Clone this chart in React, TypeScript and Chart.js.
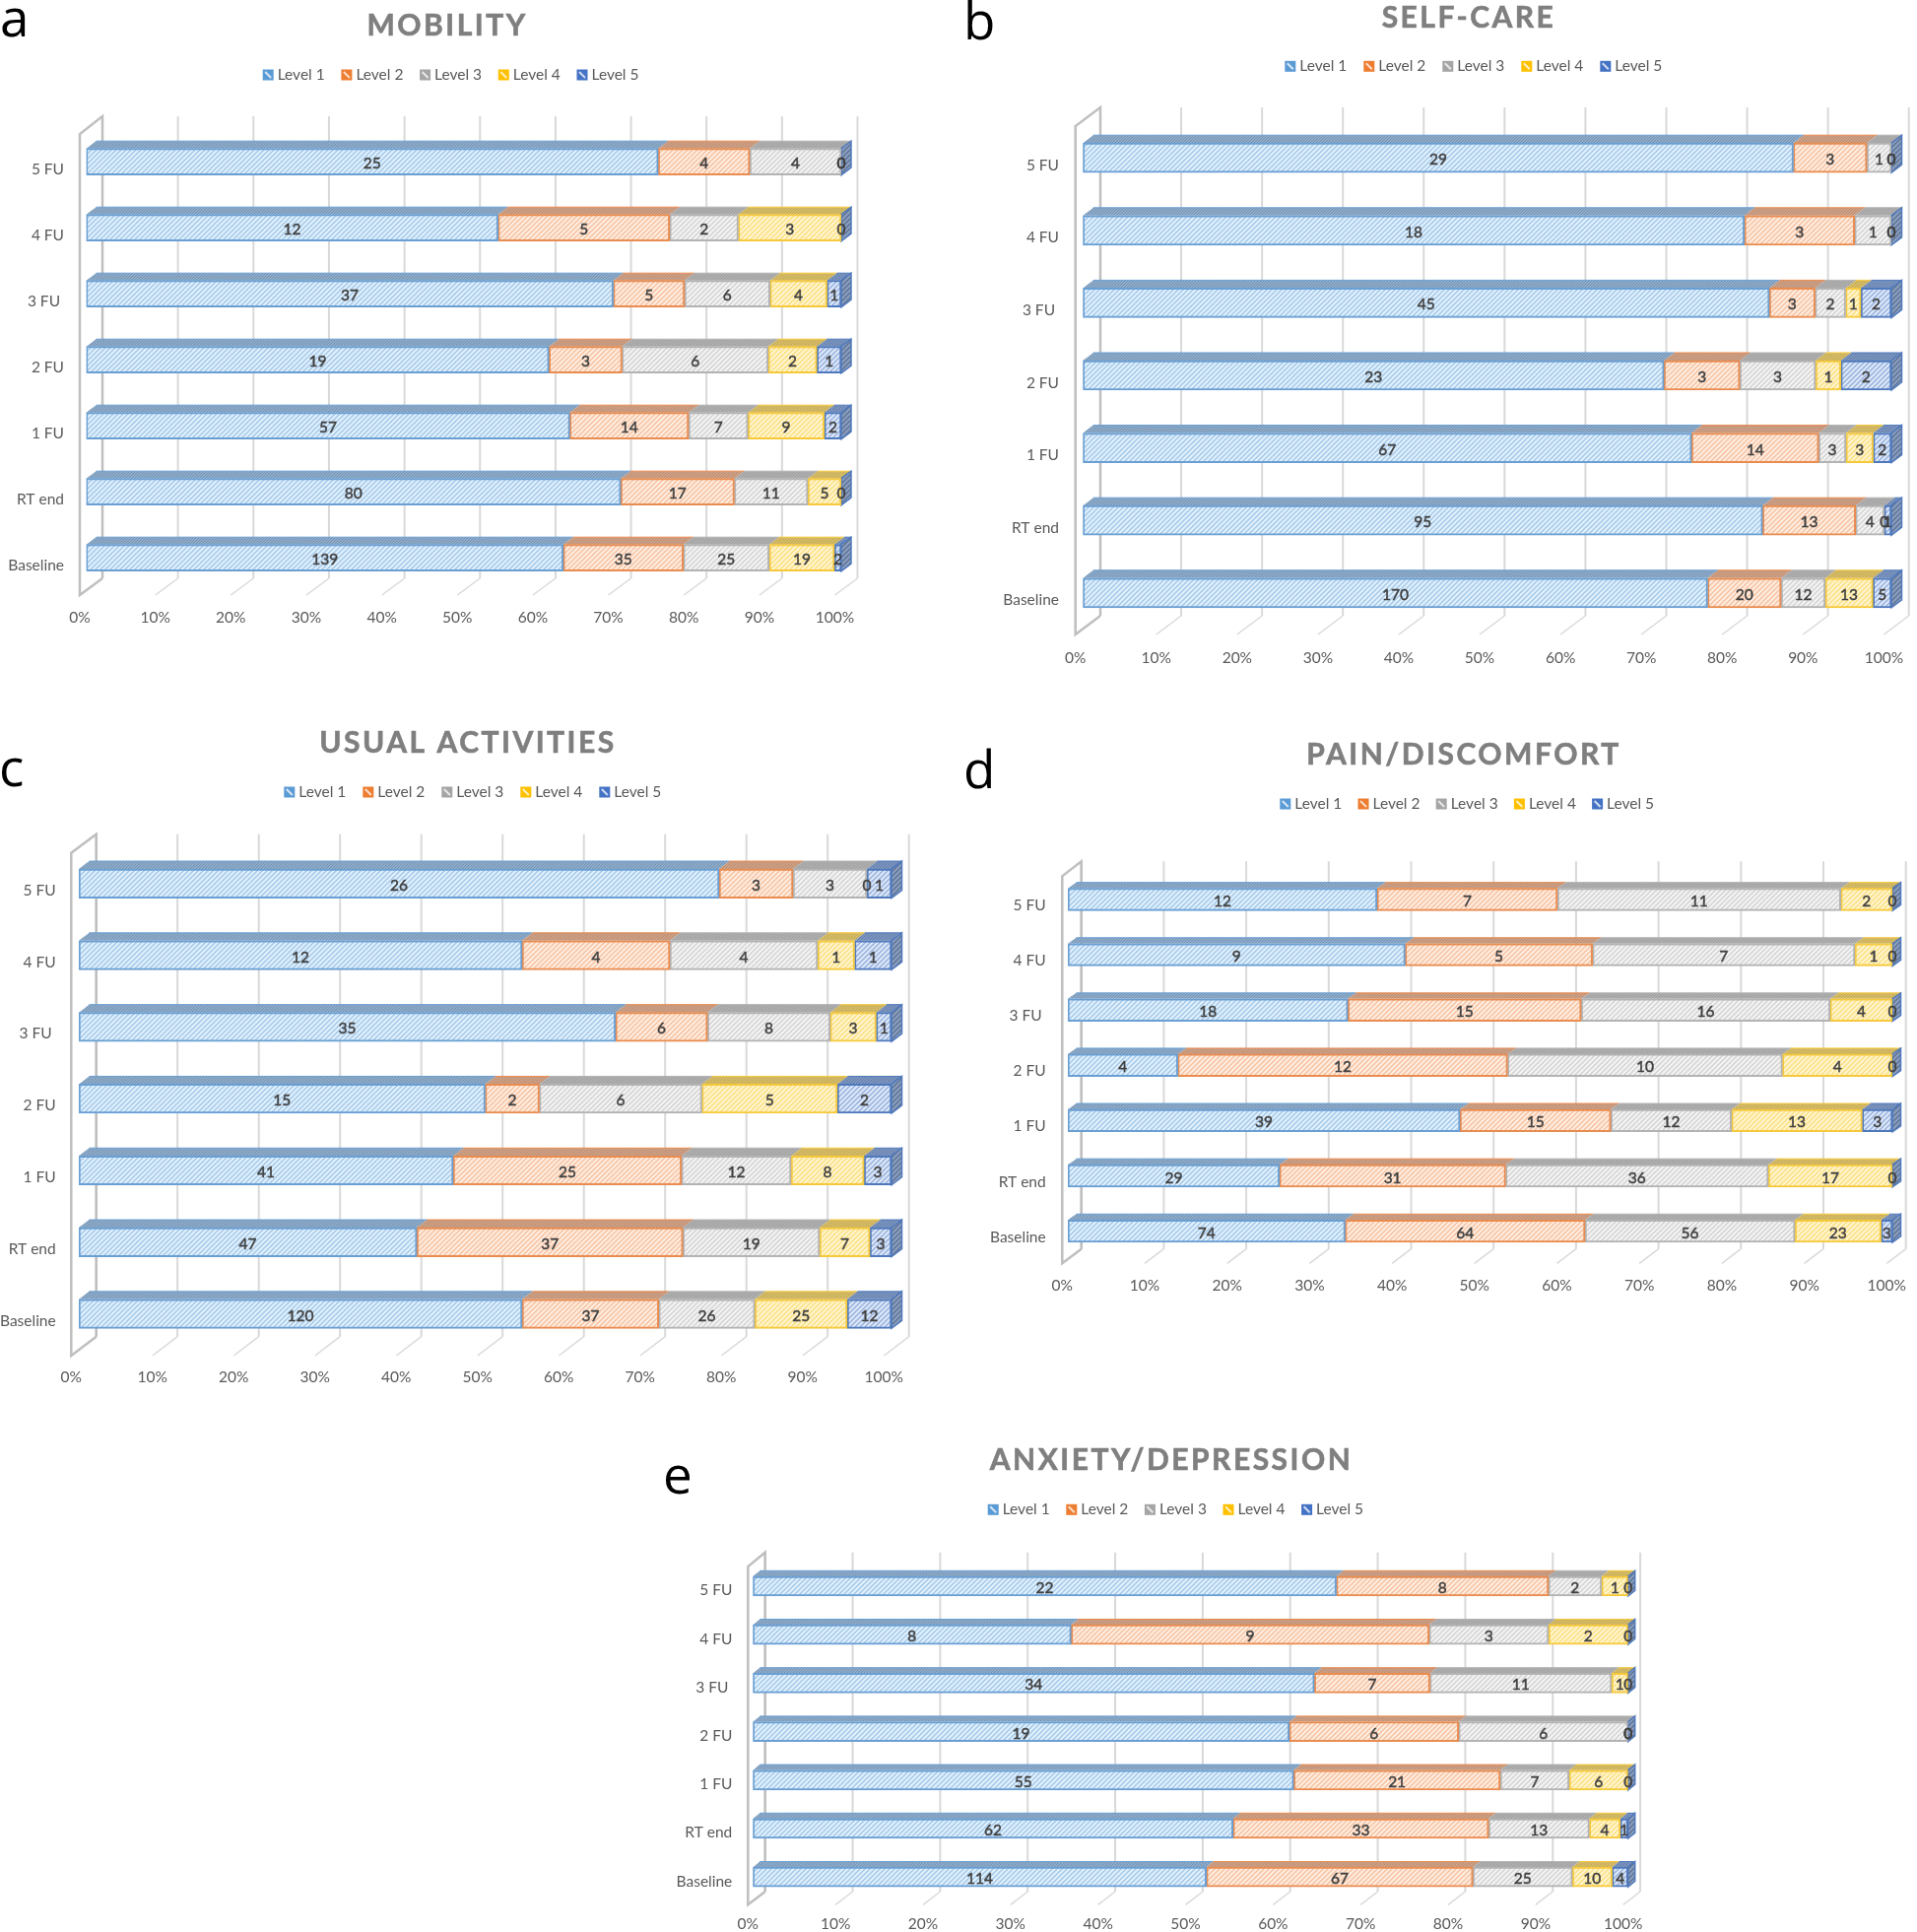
import React, { useEffect, useRef } from "react";
import { Chart, registerables } from "chart.js";

Chart.register(...registerables);

const categories = ["5 FU", "4 FU", "3 FU ", "2 FU", "1 FU", "RT end", "Baseline"];
const levels = ["Level 1", "Level 2", "Level 3", "Level 4", "Level 5"];
const percentTicks = [0, 10, 20, 30, 40, 50, 60, 70, 80, 90, 100];

const mobilityCounts = [
  [25, 12, 37, 19, 57, 80, 139],
  [4, 5, 5, 3, 14, 17, 35],
  [4, 2, 6, 6, 7, 11, 25],
  [0, 3, 4, 2, 9, 5, 19],
  [0, 0, 1, 1, 2, 0, 2],
];
const selfCareCounts = [
  [29, 18, 45, 23, 67, 95, 170],
  [3, 3, 3, 3, 14, 13, 20],
  [1, 1, 2, 3, 3, 4, 12],
  [0, 0, 1, 1, 3, 0, 13],
  [0, 0, 2, 2, 2, 1, 5],
];
const usualCounts = [
  [26, 12, 35, 15, 41, 47, 120],
  [3, 4, 6, 2, 25, 37, 37],
  [3, 4, 8, 6, 12, 19, 26],
  [0, 1, 3, 5, 8, 7, 25],
  [1, 1, 1, 2, 3, 3, 12],
];
const painCounts = [
  [12, 9, 18, 4, 39, 29, 74],
  [7, 5, 15, 12, 15, 31, 64],
  [11, 7, 16, 10, 12, 36, 56],
  [2, 1, 4, 4, 13, 17, 23],
  [0, 0, 0, 0, 3, 0, 3],
];
const anxietyCounts = [
  [22, 8, 34, 19, 55, 62, 114],
  [8, 9, 7, 6, 21, 33, 67],
  [2, 3, 11, 6, 7, 13, 25],
  [1, 2, 1, 0, 6, 4, 10],
  [0, 0, 0, 0, 0, 1, 4],
];

const palette = [
  { line: "#6a9fd3", light: "#e2f1fd", stripe: "#a3c8e8", top: "#8fadcb", dot: "#7391b0", swatch: "#5b9bd5" },
  { line: "#e98c50", light: "#feeee3", stripe: "#f7c09d", top: "#cfa186", dot: "#b98b70", swatch: "#ed7d31" },
  { line: "#b3b3b3", light: "#f4f4f4", stripe: "#d2d2d2", top: "#b0b0b0", dot: "#9d9d9d", swatch: "#a5a5a5" },
  { line: "#f6c93c", light: "#fff5d0", stripe: "#fcdf80", top: "#d8bd68", dot: "#c0a854", swatch: "#ffc000" },
  { line: "#4f79bd", light: "#dfe9f8", stripe: "#95b0de", top: "#7e98c2", dot: "#5f7aa6", swatch: "#4472c4" },
];

const panels = [
  { letter: "a", lx: 0, ly: 37, title: "MOBILITY", tx: 454, ty: 25, counts: mobilityCounts, box: [0, 0, 970, 720],
    barL: 87.5, barR: 854, first: 164.2, step: 67, thick: 27, dx: 10, dy: 7.5,
    frontDx: -6.5, backDx: 16.5, frontTop: 136, frontBot: 604, backTop: 118, backBot: 587,
    legX: 266.7, legStep: 79.7, legY: 76, yRight: 65, yOff: 8, xLabelY: 627, stripe: 5 },
  { letter: "b", lx: 978, ly: 40, title: "SELF-CARE", tx: 1491, ty: 17, counts: selfCareCounts, box: [970, 0, 976, 720],
    barL: 1099.3, barR: 1920, first: 160.2, step: 73.6, thick: 30, dx: 10.5, dy: 8,
    frontDx: -7.6, backDx: 17.7, frontTop: 128, frontBot: 644, backTop: 109, backBot: 625,
    legX: 1304.3, legStep: 80, legY: 67.3, yRight: 1075, yOff: 7.5, xLabelY: 667.7, stripe: 5 },
  { letter: "c", lx: -1, ly: 798, title: "USUAL ACTIVITIES", tx: 475, ty: 753, counts: usualCounts, box: [0, 720, 970, 720],
    barL: 80, barR: 905, first: 896.8, step: 72.8, thick: 29.5, dx: 10.5, dy: 8,
    frontDx: -7.7, backDx: 17.7, frontTop: 865.7, frontBot: 1376, backTop: 846.7, backBot: 1356.7,
    legX: 288.3, legStep: 80, legY: 804, yRight: 56.7, yOff: 7, xLabelY: 1398, stripe: 5 },
  { letter: "d", lx: 978, ly: 800, title: "PAIN/DISCOMFORT", tx: 1486, ty: 765, counts: painCounts, box: [970, 720, 976, 720],
    barL: 1084, barR: 1921, first: 913, step: 56.1, thick: 22.7, dx: 8.5, dy: 6,
    frontDx: -5.7, backDx: 13.7, frontTop: 889.3, frontBot: 1282.3, backTop: 874.3, backBot: 1267.7,
    legX: 1299.3, legStep: 79.2, legY: 816, yRight: 1061.7, yOff: 6, xLabelY: 1305, stripe: 4.5 },
  { letter: "e", lx: 673, ly: 1516, title: "ANXIETY/DEPRESSION", tx: 1189, ty: 1481, counts: anxietyCounts, box: [600, 1440, 1346, 521],
    barL: 764.3, barR: 1652.7, first: 1610, step: 49.2, thick: 20, dx: 7, dy: 5.7,
    frontDx: -5, backDx: 12.4, frontTop: 1590, frontBot: 1933.3, backTop: 1575.7, backBot: 1920,
    legX: 1002.7, legStep: 79.6, legY: 1532.3, yRight: 743.3, yOff: 4.3, xLabelY: 1953, stripe: 4.5 },
];

const FONT = "Lato";

function stripePattern(ctx: CanvasRenderingContext2D, base: string, stripe: string, s: number) {
  const size = Math.round(s);
  const t = document.createElement("canvas");
  t.width = size;
  t.height = size;
  const c = t.getContext("2d")!;
  c.fillStyle = base;
  c.fillRect(0, 0, size, size);
  c.strokeStyle = stripe;
  c.lineWidth = 1.5;
  [[-1, size + 1, size + 1, -1], [-1, 1, 1, -1], [size - 1, size + 1, size + 1, size - 1]].forEach(([a, b, d, e]) => {
    c.beginPath();
    c.moveTo(a, b);
    c.lineTo(d, e);
    c.stroke();
  });
  return ctx.createPattern(t, "repeat")!;
}

function meshPattern(ctx: CanvasRenderingContext2D, base: string, dot: string) {
  const t = document.createElement("canvas");
  t.width = 3;
  t.height = 3;
  const c = t.getContext("2d")!;
  c.fillStyle = base;
  c.fillRect(0, 0, 3, 3);
  c.fillStyle = dot;
  c.fillRect(0, 0, 1, 1);
  c.fillRect(2, 1, 1, 1);
  c.fillRect(1, 2, 1, 1);
  return ctx.createPattern(t, "repeat")!;
}

function Panel({ p }: { p: (typeof panels)[number] }) {
  const ref = useRef<HTMLCanvasElement>(null);
  const [bx, by, bw, bh] = p.box;

  useEffect(() => {
    const canvas = ref.current!;
    const ctx0 = canvas.getContext("2d")!;
    const fronts = palette.map((c) => stripePattern(ctx0, c.light, c.stripe, p.stripe));
    const tops = palette.map((c) => meshPattern(ctx0, c.top, c.dot));
    const sideStripe = stripePattern(ctx0, "#8c9fbe", "#5c7396", p.stripe);
    const areaTop = p.first - p.step / 2;
    const areaBot = areaTop + p.step * categories.length;

    const totals = categories.map((_, i) => p.counts.reduce((s, row) => s + row[i], 0));
    const datasets = levels.map((label, k) => ({
      label,
      data: p.counts[k].map((v, i) => (v / totals[i]) * 100),
      counts: p.counts[k],
      backgroundColor: fronts[k],
      borderColor: palette[k].line,
      borderWidth: 2,
      borderSkipped: false,
      barThickness: p.thick,
    }));

    const walls = {
      id: "walls",
      beforeDatasetsDraw(chart: any) {
        const ctx = chart.ctx;
        const sx = chart.scales.x;
        const oy = -by;
        ctx.save();
        percentTicks.forEach((v) => {
          const px = sx.getPixelForValue(v);
          ctx.strokeStyle = "#d9d9d9";
          ctx.lineWidth = 2;
          ctx.beginPath();
          ctx.moveTo(px + p.backDx, p.backTop + oy);
          ctx.lineTo(px + p.backDx, p.backBot + oy);
          ctx.stroke();
          ctx.lineWidth = 1.5;
          ctx.beginPath();
          ctx.moveTo(px + p.backDx, p.backBot + oy);
          ctx.lineTo(px + p.frontDx, p.frontBot + oy);
          ctx.stroke();
        });
        const x0 = sx.getPixelForValue(0);
        ctx.strokeStyle = "#bfbfbf";
        ctx.lineWidth = 2.5;
        ctx.lineJoin = "miter";
        ctx.beginPath();
        ctx.moveTo(x0 + p.backDx, p.backBot + oy);
        ctx.lineTo(x0 + p.backDx, p.backTop + oy);
        ctx.lineTo(x0 + p.frontDx, p.frontTop + oy);
        ctx.lineTo(x0 + p.frontDx, p.frontBot + oy);
        ctx.lineTo(x0 + p.backDx, p.backBot + oy);
        ctx.stroke();

        // depth faces of every stacked segment, behind the front faces
        chart.data.datasets.forEach((_: any, k: number) => {
          chart.getDatasetMeta(k).data.forEach((el: any) => {
            const top = el.y - el.height / 2;
            const a = Math.min(el.base, el.x);
            const b = Math.max(el.base, el.x);
            if (b - a > 0) {
              ctx.fillStyle = tops[k];
              ctx.strokeStyle = palette[k].line;
              ctx.lineWidth = 1;
              ctx.beginPath();
              ctx.moveTo(a, top);
              ctx.lineTo(a + p.dx, top - p.dy);
              ctx.lineTo(b + p.dx, top - p.dy);
              ctx.lineTo(b, top);
              ctx.closePath();
              ctx.fill();
              ctx.beginPath();
              ctx.moveTo(a + p.dx, top - p.dy);
              ctx.lineTo(b + p.dx, top - p.dy);
              ctx.stroke();
            }
            if (k === levels.length - 1) {
              const bottom = el.y + el.height / 2;
              ctx.fillStyle = sideStripe;
              ctx.strokeStyle = palette[k].line;
              ctx.lineWidth = 1.5;
              ctx.beginPath();
              ctx.moveTo(b, top);
              ctx.lineTo(b + p.dx, top - p.dy);
              ctx.lineTo(b + p.dx, bottom - p.dy);
              ctx.lineTo(b, bottom);
              ctx.closePath();
              ctx.fill();
              ctx.stroke();
            }
          });
        });
        ctx.restore();
      },
    };

    const annotations = {
      id: "annotations",
      afterDatasetsDraw(chart: any) {
        const ctx = chart.ctx;
        ctx.save();
        ctx.textAlign = "center";
        ctx.textBaseline = "middle";
        ctx.font = `15.5px ${FONT}`;
        ctx.fillStyle = "#404040";
        ctx.strokeStyle = "#404040";
        ctx.lineWidth = 0.45;
        chart.data.datasets.forEach((ds: any, k: number) => {
          chart.getDatasetMeta(k).data.forEach((el: any, i: number) => {
            const tx = (el.base + el.x) / 2;
            ctx.fillText(String(ds.counts[i]), tx, el.y + 2);
            ctx.strokeText(String(ds.counts[i]), tx, el.y + 2);
          });
        });
        ctx.restore();
      },
      afterDraw(chart: any) {
        const ctx = chart.ctx;
        ctx.save();
        ctx.textBaseline = "middle";
        ctx.textAlign = "center";
        ctx.fillStyle = "#7f7f7f";
        ctx.strokeStyle = "#7f7f7f";
        ctx.lineWidth = 0.6;
        ctx.font = `bold 30px ${FONT}`;
        (ctx as any).letterSpacing = "2.5px";
        ctx.fillText(p.title, p.tx - bx, p.ty - by + 1);
        ctx.strokeText(p.title, p.tx - bx, p.ty - by + 1);
        (ctx as any).letterSpacing = "0px";

        ctx.font = `15.5px ${FONT}`;
        ctx.textAlign = "left";
        levels.forEach((lab, k) => {
          const x = p.legX - bx + k * p.legStep;
          const y = p.legY - by;
          ctx.fillStyle = palette[k].swatch;
          ctx.fillRect(x, y - 5.5, 11, 11);
          ctx.strokeStyle = "rgba(255,255,255,0.75)";
          ctx.lineWidth = 2;
          ctx.beginPath();
          ctx.moveTo(x + 2.5, y - 3);
          ctx.lineTo(x + 8.5, y + 3);
          ctx.stroke();
          ctx.fillStyle = "#595959";
          ctx.fillText(lab, x + 15, y);
        });

        ctx.fillStyle = "#000000";
        ctx.textBaseline = "alphabetic";
        ctx.font = `53px "Open Sans"`;
        ctx.fillText(p.letter, p.lx - bx, p.ly - by);
        ctx.restore();
      },
    };

    const chart = new Chart(canvas, {
      type: "bar",
      data: { labels: categories, datasets: datasets as any },
      plugins: [walls, annotations],
      options: {
        indexAxis: "y",
        animation: false,
        responsive: false,
        devicePixelRatio: 1,
        layout: {
          padding: { left: 0, top: areaTop - by, right: bx + bw - p.barR, bottom: 0 },
        },
        plugins: { legend: { display: false }, title: { display: false }, tooltip: { enabled: false } },
        scales: {
          x: {
            stacked: true,
            min: 0,
            max: 100,
            grid: { display: false, drawTicks: false },
            border: { display: false },
            afterFit(scale: any) {
              scale.height = by + bh - areaBot;
              scale.paddingLeft = 0;
              scale.paddingRight = 0;
            },
            ticks: {
              stepSize: 10,
              autoSkip: false,
              maxRotation: 0,
              padding: p.xLabelY - areaBot - 9,
              labelOffset: p.frontDx,
              color: "#595959",
              font: { family: FONT, size: 15.5 },
              callback: (v: any) => `${v}%`,
            },
          },
          y: {
            stacked: true,
            grid: { display: false, drawTicks: false },
            border: { display: false },
            afterFit(scale: any) {
              scale.width = p.barL - bx;
              scale.paddingTop = 0;
              scale.paddingBottom = 0;
            },
            ticks: {
              autoSkip: false,
              padding: p.barL - p.yRight,
              labelOffset: p.yOff,
              color: "#595959",
              font: { family: FONT, size: 15.5 },
            },
          },
        },
      },
    } as any);
    return () => chart.destroy();
  }, []);

  return (
    <canvas
      ref={ref}
      width={bw}
      height={bh}
      style={{ position: "absolute", left: bx, top: by, width: bw, height: bh, display: "block" }}
    />
  );
}

export default function App() {
  return (
    <div style={{ position: "absolute", left: 0, top: 0, width: 1946, height: 1961, background: "#ffffff", overflow: "hidden" }}>
      {panels.map((p) => (
        <Panel key={p.letter} p={p} />
      ))}
    </div>
  );
}
